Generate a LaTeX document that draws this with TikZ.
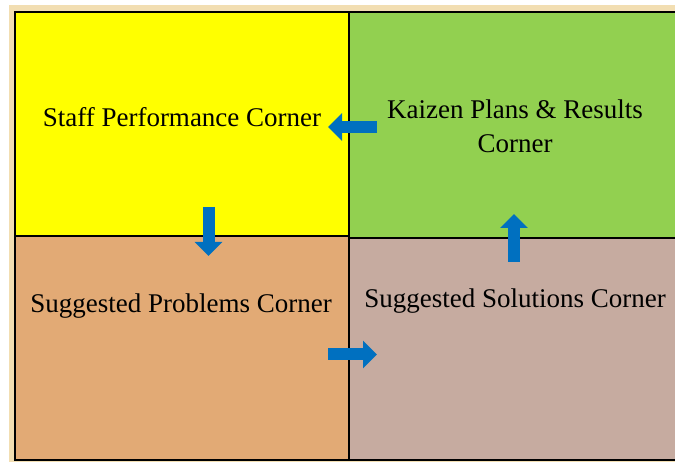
\documentclass[tikz,border=0pt]{standalone}
\usepackage{fontspec}
\setmainfont{Liberation Serif}
\usetikzlibrary{positioning,arrows.meta}

\definecolor{gelb}{HTML}{FFFF00}
\definecolor{gruen}{HTML}{92D050}
\definecolor{orange}{HTML}{E2AA75}
\definecolor{rosa}{HTML}{C6ABA0}
\definecolor{rahmen}{HTML}{F2DEB2}
\definecolor{blau}{HTML}{0070C0}

\begin{document}
\begin{tikzpicture}[x=1pt, y=-1pt, on grid,
    feld/.style={draw=black, line width=1.6pt, minimum width=334pt, inner sep=0pt},
    txt/.style={font=\fontsize{27}{34}\selectfont, align=center, inner sep=0pt},
    pfeil/.style={draw=blau, line width=12pt, -{Triangle[width=27pt,length=14pt]}}]

    \useasboundingbox (0,0) rectangle (675,462);
    \clip (0,0) rectangle (675,462);
    \fill[rahmen] (9,5) rectangle (680,470);

    % Felder
    \node[feld, fill=gelb, minimum height=224pt] (staff) at (182,124) {};
    \node[feld, fill=gruen, minimum height=226pt, right=334pt of staff, yshift=-1pt] (kaizen) {};
    \node[feld, fill=orange, minimum height=224pt, below=224pt of staff] (problems) {};
    \node[feld, fill=rosa, minimum height=222pt, below=224pt of kaizen] (solutions) {};

    % Texte
    \node[txt, anchor=base] (tstaff) at (182,127) {Staff Performance Corner};
    \node[txt] (tkaizen) at (515,126) {Kaizen Plans \& Results\\Corner};
    \node[txt, anchor=base] (tproblems) at (181,313) {Suggested Problems Corner};
    \node[txt, anchor=base] (tsolutions) at (515,308) {Suggested Solutions Corner};

    % Pfeile
    \coordinate (k1) at (377,127);
    \coordinate (s1) at (328,127);
    \coordinate (s2) at (208.5,207);
    \coordinate (p2) at (208.5,256);
    \coordinate (p3) at (328,354.5);
    \coordinate (l3) at (377,354.5);
    \coordinate (l4) at (514,262);
    \coordinate (k4) at (514,214);
    \draw[pfeil] (k1) -- (s1);
    \draw[pfeil] (s2) -- (p2);
    \draw[pfeil] (p3) -- (l3);
    \draw[pfeil] (l4) -- (k4);

\end{tikzpicture}
\end{document}
